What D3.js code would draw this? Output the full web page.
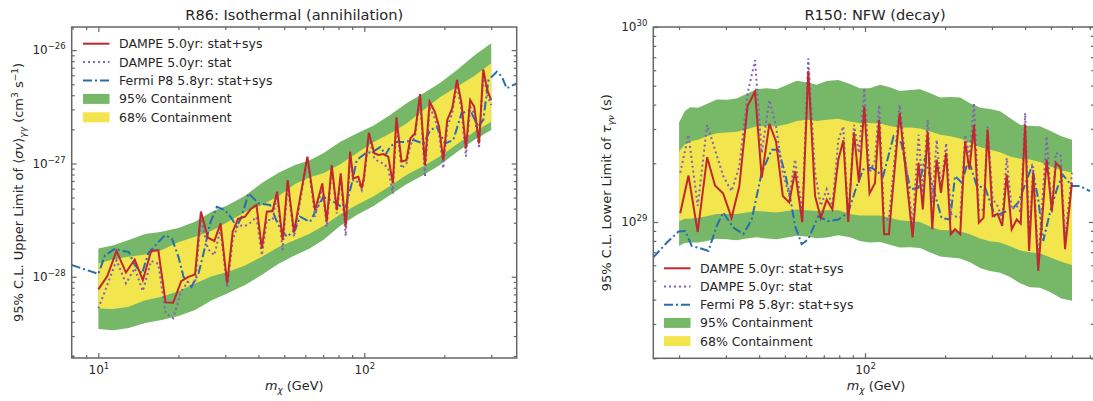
<!DOCTYPE html>
<html><head><meta charset="utf-8">
<script src="https://cdn.jsdelivr.net/npm/d3@7"></script>
<style>
body{margin:0;background:#fff}
text{font-family:"DejaVu Sans",sans-serif;fill:#262626}
</style>
</head><body>
<svg id="c" width="1093" height="401"></svg>
<script>
// ---------------- LEFT PANEL DATA: R86 Isothermal (annihilation) ----------------
const L_title = "R86: Isothermal (annihilation)";
const L_bandMass = [10, 11.4, 13, 15, 17.3, 20, 23.1, 26.7, 30.8, 35.6, 41.2, 47.6, 54.9, 62, 70.1, 81, 93.6, 108, 125, 144.5, 167, 193, 223, 259, 300];
const L_green95Hi = [1.78e-28, 1.90e-28, 2.11e-28, 2.38e-28, 2.50e-28, 2.70e-28, 3.06e-28, 3.75e-28, 4.30e-28, 5.20e-28, 6.71e-28, 8.30e-28, 9.68e-28, 1.06e-27, 1.23e-27, 1.55e-27, 1.84e-27, 2.15e-27, 2.68e-27, 3.42e-27, 4.16e-27, 5.15e-27, 6.67e-27, 8.95e-27, 1.15e-26];
const L_yellow68Hi = [1.31e-28, 1.43e-28, 1.50e-28, 1.57e-28, 1.72e-28, 2.02e-28, 2.25e-28, 2.55e-28, 3.06e-28, 3.72e-28, 4.30e-28, 5.15e-28, 6.58e-28, 7.50e-28, 8.18e-28, 9.80e-28, 1.23e-27, 1.54e-27, 1.84e-27, 2.26e-27, 2.96e-27, 3.85e-27, 4.75e-27, 5.90e-27, 7.65e-27];
const L_yellow68Lo = [5.26e-29, 5.20e-29, 5.44e-29, 6.20e-29, 6.66e-29, 7.45e-29, 8.74e-29, 1.01e-28, 1.11e-28, 1.26e-28, 1.50e-28, 1.83e-28, 2.11e-28, 2.38e-28, 2.80e-28, 3.55e-28, 4.30e-28, 5.10e-28, 6.32e-28, 7.95e-28, 9.49e-28, 1.16e-27, 1.48e-27, 1.90e-27, 2.33e-27];
const L_green95Lo = [3.46e-29, 3.38e-29, 3.53e-29, 3.90e-29, 4.15e-29, 4.50e-29, 5.08e-29, 6.20e-29, 7.18e-29, 8.45e-29, 1.04e-28, 1.30e-28, 1.55e-28, 1.77e-28, 2.11e-28, 2.80e-28, 3.50e-28, 4.20e-28, 5.26e-28, 6.60e-28, 7.90e-28, 9.75e-28, 1.26e-27, 1.61e-27, 1.97e-27];

const L_dampeMass = [10.0, 10.8, 11.7, 12.7, 13.7, 14.7, 15.8, 16.8, 17.9, 19.1,
  20.5, 21.7, 23.1, 24.3, 25.8, 27.3, 28.8, 30.5, 32.0, 33.5,
  35.6, 37.4, 39.3, 41.2, 43.0, 45.2, 47.0, 49.3, 51.5, 54.4,
  61.1, 65.3, 69.5, 72.2, 75.4, 78.8, 81.5, 85.1, 88.4, 90.9,
  94.9, 97.8, 99.7, 104, 109, 113, 118, 123, 128, 132,
  138, 144, 149, 155, 162, 169, 176, 184, 191, 198,
  205, 214, 223, 232, 241, 250, 259, 270, 280, 290, 300];
const L_dampeStatSys = [7.74e-29, 1.01e-28, 1.69e-28, 1.09e-28, 1.42e-28, 9.35e-29, 1.69e-28, 1.72e-28, 5.94e-29, 5.89e-29,
  9.16e-29, 9.94e-29, 1.05e-28, 3.76e-28, 2.22e-28, 2.07e-28, 2.96e-28, 8.74e-29, 2.50e-28, 3.24e-28,
  3.39e-28, 3.96e-28, 4.30e-28, 1.78e-28, 3.75e-28, 3.80e-28, 5.63e-28, 2.11e-28, 7.14e-28, 2.48e-28,
  1.15e-27, 3.88e-28, 6.67e-28, 3.06e-28, 9.68e-28, 3.88e-28, 8.18e-28, 2.76e-28, 1.27e-27, 7.39e-28,
  7.63e-28, 6.03e-28, 7.63e-28, 1.87e-27, 1.23e-27, 1.19e-27, 1.21e-27, 1.15e-27, 6.67e-28, 2.55e-27,
  1.04e-27, 1.07e-27, 1.67e-27, 1.84e-27, 4.10e-27, 9.68e-28, 3.50e-27, 2.86e-27, 2.11e-27, 1.07e-27,
  2.42e-27, 3.06e-27, 5.45e-27, 3.39e-27, 1.36e-27, 3.63e-27, 3.17e-27, 1.50e-27, 6.77e-27, 4.44e-27, 3.63e-27];
const L_dampeStat = [5.26e-29, 8.45e-29, 1.40e-28, 8.74e-29, 1.19e-28, 7.48e-29, 1.38e-28, 1.30e-28, 4.75e-29, 4.32e-29,
  7.48e-29, 8.98e-29, 8.74e-29, 3.26e-28, 1.76e-28, 1.55e-28, 2.64e-28, 8.03e-29, 2.11e-28, 2.86e-28,
  2.80e-28, 3.01e-28, 3.37e-28, 1.55e-28, 3.17e-28, 3.17e-28, 5.26e-28, 1.72e-28, 6.45e-28, 2.25e-28,
  1.11e-27, 3.39e-28, 6.23e-28, 2.76e-28, 9.05e-28, 3.63e-28, 7.63e-28, 2.29e-28, 1.15e-27, 6.90e-28,
  6.90e-28, 5.83e-28, 7.14e-28, 1.72e-27, 1.11e-27, 1.04e-27, 1.00e-27, 9.05e-28, 5.45e-28, 2.33e-27,
  9.05e-28, 1.00e-27, 1.45e-27, 1.72e-27, 3.88e-27, 7.63e-28, 3.17e-27, 2.50e-27, 1.84e-27, 9.05e-28,
  2.11e-27, 2.77e-27, 4.92e-27, 2.96e-27, 1.15e-27, 3.17e-27, 2.77e-27, 1.36e-27, 6.24e-27, 4.02e-27, 3.28e-27];

const L_fermiMass = [7.94, 10.0, 10.6, 11.6, 12.2, 13.0, 13.7, 14.6, 15.4, 16.3,
  17.8, 18.9, 20.0, 20.9, 22.4, 23.8, 25.2, 26.3, 27.9, 29.9,
  31.7, 33.1, 34.6, 36.7, 40.0, 44.2, 47.5, 51.1, 54.9, 57.3,
  62.5, 70.1, 78.8, 84.6, 89.7, 93.6, 101, 108, 115, 120,
  125, 132, 142, 153, 167, 177, 187, 201, 216, 232,
  250, 268, 280, 293, 315, 329, 343, 374];
const L_fermiLimit = [1.27e-28, 1.06e-28, 1.55e-28, 1.78e-28, 1.69e-28, 1.66e-28, 1.27e-28, 1.07e-28, 1.61e-28, 1.87e-28,
  2.33e-28, 2.18e-28, 1.50e-28, 1.00e-28, 8.16e-29, 1.07e-28, 1.84e-28, 2.96e-28, 4.15e-28, 3.88e-28,
  3.28e-28, 2.76e-28, 3.39e-28, 5.45e-28, 4.45e-28, 4.30e-28, 2.86e-28, 2.25e-28, 2.58e-28, 3.39e-28,
  3.06e-28, 5.08e-28, 4.45e-28, 3.88e-28, 6.67e-28, 1.07e-27, 1.23e-27, 1.27e-27, 1.40e-27, 1.19e-27,
  1.40e-27, 1.55e-27, 1.55e-27, 1.61e-27, 1.50e-27, 1.97e-27, 2.11e-27, 1.50e-27, 1.61e-27, 2.77e-27,
  2.96e-27, 2.11e-27, 2.42e-27, 5.45e-27, 6.45e-27, 5.83e-27, 4.60e-27, 5.09e-27];

const L_xMajor = [10, 100];
const L_yMajor = [1e-28, 1e-27, 1e-26];

// ---------------- RIGHT PANEL DATA: R150 NFW (decay) ----------------
const R_title = "R150: NFW (decay)";
const R_bandMass = [20, 21, 22, 23.6, 25.4, 27.7, 30.2, 32.9, 35.9, 39.2, 42.7, 46.6, 50.8, 55.4, 60.4, 65.8, 71.8, 79.4, 87.8, 95.6, 104, 114, 124, 135, 148, 161, 176, 192, 209, 228, 248, 272, 295, 322, 351, 383, 417, 455, 496, 547, 600];
const R_green95Hi = [3.24e29, 3.70e29, 3.88e29, 3.85e29, 4.03e29, 4.25e29, 4.23e29, 4.30e29, 4.54e29, 4.80e29,
  4.85e29, 4.80e29, 5.04e29, 5.30e29, 5.19e29, 5.05e29, 5.28e29, 5.35e29, 5.10e29, 4.85e29,
  4.85e29, 5.05e29, 4.91e29, 4.70e29, 4.75e29, 4.80e29, 4.57e29, 4.35e29, 4.38e29, 4.35e29,
  4.07e29, 3.85e29, 3.80e29, 3.70e29, 3.41e29, 3.15e29, 3.11e29, 3.10e29, 2.94e29, 2.75e29, 2.64e29];
const R_yellow68Hi = [2.30e29, 2.50e29, 2.59e29, 2.64e29, 2.75e29, 2.85e29, 2.88e29, 2.90e29, 2.99e29, 3.10e29,
  3.10e29, 3.10e29, 3.17e29, 3.30e29, 3.34e29, 3.30e29, 3.34e29, 3.38e29, 3.28e29, 3.21e29,
  3.22e29, 3.20e29, 3.11e29, 3.04e29, 3.05e29, 3.02e29, 2.91e29, 2.80e29, 2.75e29, 2.68e29,
  2.54e29, 2.42e29, 2.35e29, 2.28e29, 2.17e29, 2.11e29, 2.09e29, 2.03e29, 1.93e29, 1.84e29, 1.79e29];
const R_yellow68Lo = [1.01e29, 1.04e29, 1.04e29, 1.05e29, 1.07e29, 1.10e29, 1.10e29, 1.10e29, 1.12e29, 1.14e29,
  1.13e29, 1.12e29, 1.14e29, 1.16e29, 1.15e29, 1.14e29, 1.15e29, 1.15e29, 1.10e29, 1.08e29,
  1.08e29, 1.08e29, 1.05e29, 1.02e29, 1.01e29, 1.00e29, 9.45e28, 9.10e28, 9.07e28, 8.95e28,
  8.66e28, 8.20e28, 7.97e28, 7.85e28, 7.51e28, 7.15e28, 7.00e28, 6.90e28, 6.60e28, 6.25e28, 6.01e28];
const R_green95Lo = [7.54e28, 7.80e28, 7.85e28, 7.85e28, 8.00e28, 8.20e28, 8.16e28, 8.05e28, 8.23e28, 8.35e28,
  8.23e28, 8.15e28, 8.33e28, 8.50e28, 8.42e28, 8.25e28, 8.33e28, 8.55e28, 8.35e28, 8.00e28,
  7.85e28, 7.90e28, 7.65e28, 7.40e28, 7.43e28, 7.35e28, 6.98e28, 6.65e28, 6.57e28, 6.50e28,
  6.21e28, 5.80e28, 5.60e28, 5.50e28, 5.22e28, 4.85e28, 4.63e28, 4.60e28, 4.38e28, 4.05e28, 3.95e28];

const R_dampeMass = [20.2, 21.7, 23.5, 25.5, 27.3, 29.3, 31.5, 33.7, 36.2, 38.6,
  40.9, 43.7, 46.3, 49.1, 51.9, 54.6, 58.1, 61.2, 64.9, 68.2,
  71.8, 75.4, 79.4, 82.9, 86.5, 90.9, 94.9, 99.4, 104, 109,
  113, 118, 123, 135, 151, 159, 165, 172, 179, 186,
  193, 202, 210, 218, 228, 238, 247, 257, 268, 279,
  289, 302, 315, 328, 341, 356, 372, 385, 400, 414,
  429, 448, 482, 504, 522, 544, 565, 600];
const R_dampeStatSys = [1.11e29, 1.73e29, 8.89e28, 2.15e29, 1.54e29, 1.40e29, 1.05e29, 1.53e29, 3.94e29, 4.66e29,
  1.69e29, 3.19e29, 2.59e29, 1.36e29, 1.26e29, 1.82e29, 1.00e29, 5.96e29, 1.36e29, 1.05e29,
  1.30e29, 1.16e29, 2.09e29, 2.62e29, 1.00e29, 2.88e29, 1.59e29, 3.91e29, 1.40e29, 1.58e29,
  3.34e29, 8.66e28, 8.66e28, 3.62e29, 8.33e28, 2.01e29, 1.16e29, 2.91e29, 9.18e28, 2.09e29,
  1.41e29, 2.26e29, 8.66e28, 9.18e28, 8.66e28, 2.59e29, 1.86e29, 3.15e29, 9.93e28, 1.05e29,
  2.97e29, 1.07e29, 1.10e29, 9.54e28, 1.75e29, 9.18e28, 1.03e29, 9.81e28, 3.15e29, 7.11e28,
  1.79e29, 5.62e28, 2.09e29, 1.14e29, 2.01e29, 1.90e29, 7.26e28, 1.59e29];
const R_dampeStat = [1.79e29, 2.80e29, 1.21e29, 3.15e29, 2.35e29, 1.72e29, 1.44e29, 1.93e29, 4.57e29, 6.76e29,
  2.26e29, 4.23e29, 3.09e29, 1.79e29, 1.36e29, 2.09e29, 1.12e29, 6.90e29, 1.79e29, 1.21e29,
  1.47e29, 1.21e29, 2.64e29, 3.09e29, 1.01e29, 3.15e29, 2.26e29, 4.85e29, 1.79e29, 2.06e29,
  3.99e29, 1.03e29, 1.03e29, 3.99e29, 9.54e28, 2.80e29, 1.41e29, 3.34e29, 1.26e29, 2.64e29,
  1.47e29, 2.54e29, 1.10e29, 1.07e29, 1.05e29, 2.80e29, 2.17e29, 4.07e29, 1.14e29, 1.16e29,
  3.09e29, 1.31e29, 1.21e29, 1.03e29, 2.13e29, 1.16e29, 1.21e29, 1.12e29, 3.62e29, 8.16e28,
  1.93e29, 6.21e28, 2.75e29, 1.12e29, 2.26e29, 2.22e29, 8.16e28, 1.79e29];

const R_fermiMass = [16.0, 18.0, 19.9, 21.1, 22.3, 24.0, 25.8, 27.7, 29.3, 32.0,
  34.9, 37.5, 40.9, 44.6, 47.2, 50.0, 52.2, 54.6, 57.8, 61.2,
  66.7, 72.8, 79.4, 86.5, 93.1, 98.5, 106, 117, 128, 137,
  148, 159, 168, 181, 194, 209, 218, 231, 245, 263,
  283, 308, 331, 356, 377, 400, 424, 448, 468, 496,
  526, 554, 599, 643, 701];
const R_fermiLimit = [6.58e28, 7.85e28, 8.93e28, 8.99e28, 7.54e28, 7.34e28, 7.11e28, 9.54e28, 1.12e29, 9.36e28,
  8.66e28, 1.03e29, 1.79e29, 2.35e29, 2.35e29, 1.79e29, 1.36e29, 9.54e28, 7.69e28, 8.16e28,
  1.07e29, 1.01e29, 1.03e29, 1.12e29, 1.53e29, 1.86e29, 1.90e29, 1.72e29, 2.75e29, 2.54e29,
  1.47e29, 1.50e29, 2.13e29, 1.47e29, 1.05e29, 1.03e29, 1.72e29, 1.59e29, 2.09e29, 1.53e29,
  1.50e29, 1.07e29, 1.12e29, 1.16e29, 1.26e29, 1.56e29, 1.93e29, 1.31e29, 8.00e28, 1.12e29,
  1.47e29, 1.75e29, 1.53e29, 1.53e29, 1.44e29];

const R_xMajor = [100];
const R_yMajor = [1e29, 1e30];

const legendLabels = ["DAMPE 5.0yr: stat+sys", "DAMPE 5.0yr: stat", "Fermi P8 5.8yr: stat+sys", "95% Containment", "68% Containment"];

// ---------------- STYLE ----------------
const C_GREEN = "#76b768", C_YELLOW = "#f2e54e", C_RED = "#c1272d", C_PURPLE = "#8361b6", C_BLUE = "#2a6cb0";
const SPINE = "#666";

const svg = d3.select("#c");
const defs = svg.append("defs");

function minorTicks(domain) {
  const out = [];
  const lo = Math.floor(Math.log10(domain[0])), hi = Math.ceil(Math.log10(domain[1]));
  for (let e = lo; e <= hi; e++) for (let k = 2; k <= 9; k++) {
    const v = k * Math.pow(10, e);
    if (v >= domain[0] * 0.999 && v <= domain[1] * 1.001) out.push(v);
  }
  return out;
}
function supLabel(sel, fs, sfs, shift) {
  sel.each(function (d) {
    const t = d3.select(this);
    const e = Math.round(Math.log10(d));
    t.text(null).attr("font-size", fs);
    t.append("tspan").text("10");
    t.append("tspan").attr("font-size", sfs).attr("dy", -shift).text(String(e).replace("-", "\u2212"));
  });
}

function panel(o) {
  const g = svg.append("g");
  const x = d3.scaleLog().domain(o.xDomain).range(o.xRange);
  const y = d3.scaleLog().domain(o.yDomain).range(o.yRange);
  const [x0, x1] = o.xRange, [y1, y0] = o.yRange;
  defs.append("clipPath").attr("id", o.id).append("rect")
    .attr("x", x0).attr("y", y0).attr("width", x1 - x0).attr("height", y1 - y0);
  const plot = g.append("g").attr("clip-path", `url(#${o.id})`);

  const area = (lo, hi) => d3.area()
    .x((d, i) => x(o.bandMass[i])).y0((d, i) => y(lo[i])).y1((d, i) => y(hi[i]));
  plot.append("path").datum(o.bandMass).attr("d", area(o.g95lo, o.g95hi)).attr("fill", C_GREEN);
  plot.append("path").datum(o.bandMass).attr("d", area(o.y68lo, o.y68hi)).attr("fill", C_YELLOW);

  const line = (mass, vals) => d3.line().x((d, i) => x(mass[i])).y((d, i) => y(vals[i]))(mass);
  plot.append("path").attr("d", line(o.fermiMass, o.fermi)).attr("fill", "none")
    .attr("stroke", C_BLUE).attr("stroke-width", 2).attr("stroke-dasharray", "9,3,2,3");
  plot.append("path").attr("d", line(o.dampeMass, o.stat)).attr("fill", "none")
    .attr("stroke", C_PURPLE).attr("stroke-width", 2).attr("stroke-dasharray", "2,3");
  plot.append("path").attr("d", line(o.dampeMass, o.statsys)).attr("fill", "none")
    .attr("stroke", C_RED).attr("stroke-width", 2).attr("stroke-linejoin", "miter");

  // frame
  g.append("rect").attr("x", x0).attr("y", y0).attr("width", x1 - x0).attr("height", y1 - y0)
    .attr("fill", "none").attr("stroke", SPINE).attr("stroke-width", 1.5);

  const xMin = minorTicks(o.xDomain), yMin = minorTicks(o.yDomain);
  const styleAxis = a => { a.select(".domain").remove(); a.selectAll("line").attr("stroke", SPINE).attr("stroke-width", 1.2); };
  // bottom
  const bx = g.append("g").attr("transform", `translate(0,${y1})`)
    .call(d3.axisBottom(x).tickValues(o.xMajor).tickSize(-5).tickPadding(7)).call(styleAxis);
  bx.selectAll("text").attr("fill", "#262626").attr("font-family", "DejaVu Sans");
  supLabel(bx.selectAll(".tick text"), 12, 8.5, 5);
  g.append("g").attr("transform", `translate(0,${y1})`)
    .call(d3.axisBottom(x).tickValues(xMin).tickSize(-3).tickFormat("")).call(styleAxis);
  g.append("g").attr("transform", `translate(0,${y0})`)
    .call(d3.axisTop(x).tickValues(o.xMajor).tickSize(-5).tickFormat("")).call(styleAxis);
  g.append("g").attr("transform", `translate(0,${y0})`)
    .call(d3.axisTop(x).tickValues(xMin).tickSize(-3).tickFormat("")).call(styleAxis);
  // left
  const ly = g.append("g").attr("transform", `translate(${x0},0)`)
    .call(d3.axisLeft(y).tickValues(o.yMajor).tickSize(-5).tickPadding(6)).call(styleAxis);
  ly.selectAll("text").attr("fill", "#262626").attr("font-family", "DejaVu Sans");
  supLabel(ly.selectAll(".tick text"), 12, 8.5, 5);
  g.append("g").attr("transform", `translate(${x0},0)`)
    .call(d3.axisLeft(y).tickValues(yMin).tickSize(-3).tickFormat("")).call(styleAxis);
  g.append("g").attr("transform", `translate(${x1},0)`)
    .call(d3.axisRight(y).tickValues(o.yMajor).tickSize(-5).tickFormat("")).call(styleAxis);
  g.append("g").attr("transform", `translate(${x1},0)`)
    .call(d3.axisRight(y).tickValues(yMin).tickSize(-3).tickFormat("")).call(styleAxis);

  // title
  g.append("text").attr("x", o.titleX).attr("y", 20).attr("text-anchor", "middle")
    .attr("font-size", 14.6).text(o.title);
  // x label
  const xl = g.append("text").attr("x", o.xlabelX).attr("y", 390).attr("text-anchor", "middle").attr("font-size", 12.8);
  xl.append("tspan").attr("font-style", "italic").text("m");
  xl.append("tspan").attr("font-style", "italic").attr("font-size", 9).attr("dy", 3).text("\u03c7");
  xl.append("tspan").attr("dy", -3).text(" (GeV)");
  // y label
  const yl = g.append("text").attr("transform", `translate(${o.ylabelX},${(y0 + y1) / 2}) rotate(-90)`)
    .attr("text-anchor", "middle").attr("font-size", 13);
  o.ylabel(yl);

  // legend
  const lg = g.append("g");
  legendLabels.forEach((lab, i) => {
    const yy = o.legY + i * o.legDy;
    const hx0 = o.legX, hx1 = o.legX + 26.5;
    if (i === 0) lg.append("line").attr("x1", hx0).attr("x2", hx1).attr("y1", yy).attr("y2", yy).attr("stroke", C_RED).attr("stroke-width", 2);
    if (i === 1) lg.append("line").attr("x1", hx0).attr("x2", hx1).attr("y1", yy).attr("y2", yy).attr("stroke", C_PURPLE).attr("stroke-width", 2).attr("stroke-dasharray", "2,3");
    if (i === 2) lg.append("line").attr("x1", hx0).attr("x2", hx1).attr("y1", yy).attr("y2", yy).attr("stroke", C_BLUE).attr("stroke-width", 2).attr("stroke-dasharray", "9,3,2,3");
    if (i === 3) lg.append("rect").attr("x", hx0).attr("y", yy - 5).attr("width", hx1 - hx0).attr("height", 10).attr("fill", C_GREEN);
    if (i === 4) lg.append("rect").attr("x", hx0).attr("y", yy - 5).attr("width", hx1 - hx0).attr("height", 10).attr("fill", C_YELLOW);
    lg.append("text").attr("x", o.legX + 36).attr("y", yy).attr("dy", "0.36em").attr("font-size", 12.5).text(lab);
  });
}

panel({
  id: "clipL", title: L_title, titleX: 294.2, xlabelX: 294.2, ylabelX: 22.5,
  xDomain: [7.94, 374], xRange: [71.7, 516.7],
  yDomain: [1.92e-29, 1.6e-26], yRange: [358, 27],
  bandMass: L_bandMass, g95hi: L_green95Hi, g95lo: L_green95Lo, y68hi: L_yellow68Hi, y68lo: L_yellow68Lo,
  dampeMass: L_dampeMass, statsys: L_dampeStatSys, stat: L_dampeStat,
  fermiMass: L_fermiMass, fermi: L_fermiLimit,
  xMajor: L_xMajor, yMajor: L_yMajor,
  legX: 83, legY: 43.7, legDy: 18.4,
  ylabel: t => {
    t.append("tspan").text("95% C.L. Upper Limit of \u27e8");
    t.append("tspan").attr("font-style", "italic").text("\u03c3v");
    t.append("tspan").text("\u27e9");
    t.append("tspan").attr("font-style", "italic").attr("font-size", 9).attr("dy", 3).text("\u03b3\u03b3");
    t.append("tspan").attr("dy", -3).text(" (cm");
    t.append("tspan").attr("font-size", 9).attr("dy", -5).text("3");
    t.append("tspan").attr("dy", 5).text(" s");
    t.append("tspan").attr("font-size", 9).attr("dy", -5).text("\u22121");
    t.append("tspan").attr("dy", 5).text(")");
  }
});

panel({
  id: "clipR", title: R_title, titleX: 875, xlabelX: 876, ylabelX: 611,
  xDomain: [16, 726], xRange: [653.3, 1094],
  yDomain: [2e28, 1e30], yRange: [358.3, 27],
  bandMass: R_bandMass, g95hi: R_green95Hi, g95lo: R_green95Lo, y68hi: R_yellow68Hi, y68lo: R_yellow68Lo,
  dampeMass: R_dampeMass, statsys: R_dampeStatSys, stat: R_dampeStat,
  fermiMass: R_fermiMass, fermi: R_fermiLimit,
  xMajor: R_xMajor, yMajor: R_yMajor,
  legX: 664, legY: 268.3, legDy: 18.2,
  ylabel: t => {
    t.append("tspan").text("95% C.L. Lower Limit of ");
    t.append("tspan").attr("font-style", "italic").text("\u03c4");
    t.append("tspan").attr("font-style", "italic").attr("font-size", 9).attr("dy", 3).text("\u03b3\u03bd");
    t.append("tspan").attr("dy", -3).text(" (s)");
  }
});
</script>
</body></html>
